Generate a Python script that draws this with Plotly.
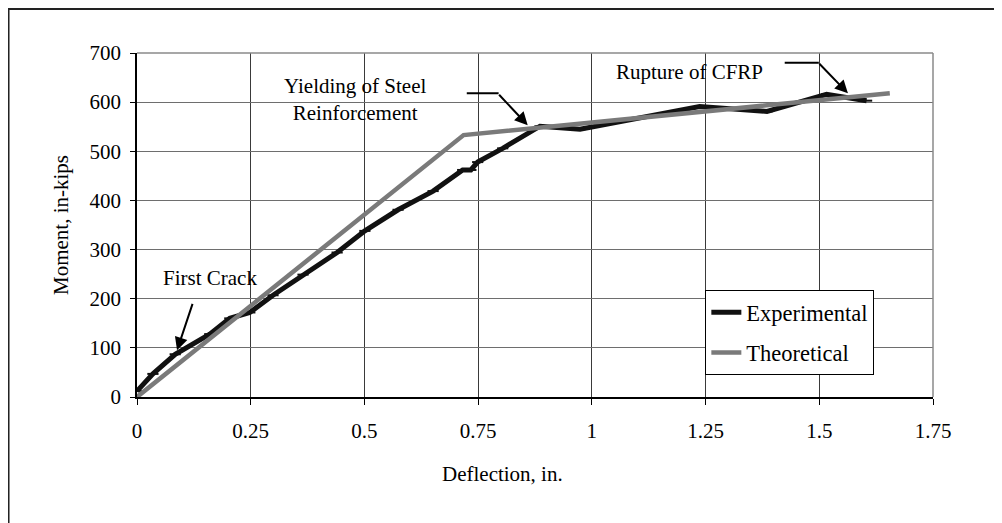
import plotly.graph_objects as go

# Experimental moment-deflection readings
exp_deflection = [0, 0.035, 0.084, 0.160, 0.204, 0.248, 0.299, 0.365, 0.440, 0.501,
                  0.574, 0.651, 0.716, 0.734, 0.749, 0.804, 0.886, 0.974, 1.237,
                  1.385, 1.516, 1.604]
exp_moment = [12, 47, 87, 128, 160, 172, 207, 249, 294, 338,
              381, 419, 462, 462, 478, 506, 551, 545, 591,
              581, 616, 603]

# Theoretical bilinear response
theo_deflection = [0, 0.718, 1.655]
theo_moment = [0, 533, 618]

x_ticks = [0, 0.25, 0.5, 0.75, 1, 1.25, 1.5, 1.75]
y_ticks = [0, 100, 200, 300, 400, 500, 600, 700]

FONT = "Liberation Serif"
FS = 21

fig = go.Figure()
fig.add_trace(go.Scatter(
    x=exp_deflection, y=exp_moment, mode="lines+markers", name="Experimental",
    legendgroup="a",
    line=dict(color="#111111", width=5),
    marker=dict(symbol="line-ew", size=8, line=dict(color="#111111", width=2)),
))
fig.add_trace(go.Scatter(
    x=theo_deflection, y=theo_moment, mode="lines", name="Theoretical",
    legendgroup="b",
    line=dict(color="#7a7a7a", width=4.5),
))

fig.update_layout(
    width=994, height=515,
    margin=dict(l=129, r=69, t=45, b=126),
    paper_bgcolor="white", plot_bgcolor="white",
    font=dict(family=FONT, size=FS, color="black"),
    showlegend=True,
    legend=dict(
        x=0.714, y=0.311, xanchor="left", yanchor="top",
        bgcolor="white", bordercolor="black", borderwidth=1,
        traceorder="grouped", tracegroupgap=8,
        font=dict(family=FONT, size=22.5, color="black"),
    ),
    xaxis=dict(
        range=[0, 1.75], tickvals=x_ticks, ticktext=[str(v) for v in x_ticks],
        showgrid=True, gridcolor="#3a3a3a", gridwidth=1,
        showline=True, linecolor="black", linewidth=1.5,
        ticks="outside", ticklen=6, tickcolor="black", ticklabelstandoff=8,
        zeroline=False, fixedrange=True,
    ),
    yaxis=dict(
        range=[0, 700], tickvals=y_ticks,
        showgrid=True, gridcolor="#6e6e6e", gridwidth=1,
        showline=True, linecolor="black", linewidth=1.5,
        ticks="outside", ticklen=5, tickcolor="black", ticklabelstandoff=5,
        zeroline=False, fixedrange=True,
    ),
    shapes=[
        # outer frame (cropped at right and bottom)
        dict(type="rect", xref="paper", yref="paper", x0=-0.1614, x1=1.2,
             y0=-0.6, y1=1.1279, line=dict(color="#222222", width=2), layer="below"),
        # plot area top and right border
        dict(type="line", xref="paper", yref="paper", x0=0, x1=1, y0=1, y1=1,
             line=dict(color="#8a8a8a", width=1.5)),
        dict(type="line", xref="paper", yref="paper", x0=1, x1=1, y0=0, y1=1,
             line=dict(color="#8a8a8a", width=1.5)),
        # elbow segments of callout arrows
        dict(type="line", xref="x", yref="y", x0=0.725, x1=0.795, y0=618, y1=618,
             line=dict(color="black", width=2)),
        dict(type="line", xref="x", yref="y", x0=1.424, x1=1.499, y0=680, y1=680,
             line=dict(color="black", width=2)),
    ],
    annotations=[
        dict(x=0.5, y=-0.225, xref="x domain", yref="paper", text="Deflection, in.",
             showarrow=False, xanchor="center", yanchor="middle",
             xshift=-33, font=dict(size=FS)),
        dict(x=-0.0955, y=0.5, xref="paper", yref="paper", text="Moment, in-kips",
             showarrow=False, textangle=-90, xanchor="center", yanchor="middle",
             font=dict(size=FS)),
        dict(x=0.160, y=242, xref="x", yref="y", text="First Crack",
             showarrow=False, xanchor="center", yanchor="middle", font=dict(size=FS)),
        dict(x=0.088, y=95, xref="x", yref="y", ax=16, ay=-48, text="",
             showarrow=True, arrowhead=2, arrowsize=1.3, arrowwidth=2, arrowcolor="black"),
        dict(x=0.479, y=605, xref="x", yref="y",
             text="Yielding of Steel<br>Reinforcement",
             showarrow=False, xanchor="center", yanchor="middle", align="center",
             font=dict(size=FS)),
        dict(x=0.859, y=553, xref="x", yref="y", ax=-30, ay=-32, text="",
             showarrow=True, arrowhead=2, arrowsize=1.3, arrowwidth=2, arrowcolor="black"),
        dict(x=1.215, y=662, xref="x", yref="y", text="Rupture of CFRP",
             showarrow=False, xanchor="center", yanchor="middle", font=dict(size=FS)),
        dict(x=1.563, y=618, xref="x", yref="y", ax=-30, ay=-31, text="",
             showarrow=True, arrowhead=2, arrowsize=1.3, arrowwidth=2, arrowcolor="black"),
    ],
)

fig.write_html("out.html")
